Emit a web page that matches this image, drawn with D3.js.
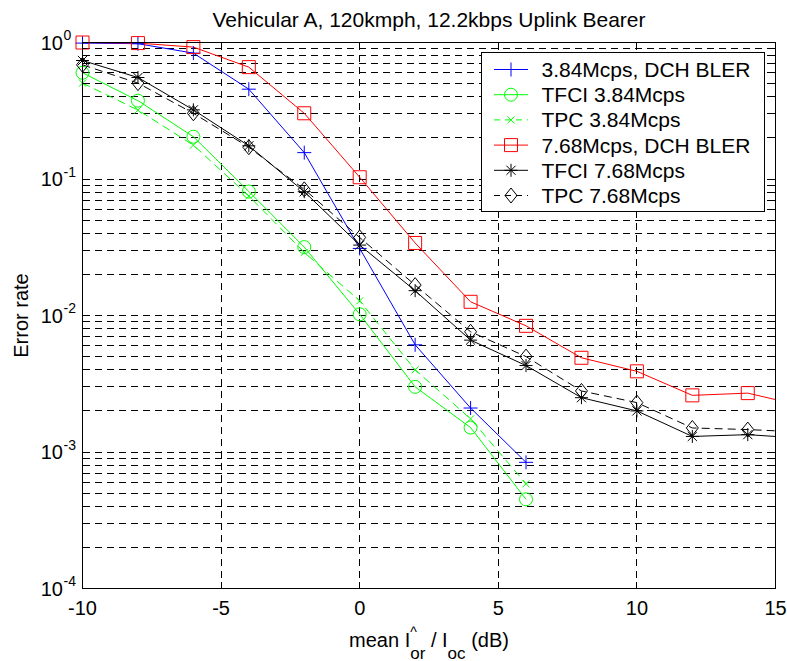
<!DOCTYPE html>
<html><head><meta charset="utf-8">
<script src="https://cdn.jsdelivr.net/npm/d3@7"></script>
<style>
body{margin:0;background:#fff;}
svg{display:block;font-family:Arial,"Liberation Sans",Helvetica,sans-serif;}
</style></head><body>
<svg id="chart" width="787" height="661"></svg>
<script>
// Ior/Ioc sweep points (dB)
const snr384 = [-10, -8, -6, -4, -2, 0, 2, 4, 6];
const snr768 = [-10, -8, -6, -4, -2, 0, 2, 4, 6, 8, 10, 12, 14, 16];

// 3.84 Mcps results
const dchBler384 = [0.99, 0.98, 0.836, 0.455, 0.156, 0.031, 0.0061, 0.0021, 0.00084];
const tfci384    = [0.60, 0.375, 0.204, 0.081, 0.0317, 0.0102, 0.0030, 0.00151, 0.00045];
const tpc384     = [0.504, 0.32, 0.177, 0.075, 0.029, 0.0128, 0.0040, 0.00175, 0.000585];

// 7.68 Mcps results
const dchBler768 = [1.0, 0.99, 0.925, 0.66, 0.303, 0.103, 0.034, 0.0126, 0.0084, 0.0049, 0.0039, 0.0026, 0.0027, 0.00217];
const tfci768    = [0.738, 0.554, 0.321, 0.175, 0.0807, 0.0328, 0.0152, 0.0066, 0.0043, 0.0025, 0.0020, 0.0013, 0.00134, 0.00126];
const tpc768     = [0.686, 0.504, 0.303, 0.171, 0.084, 0.0373, 0.0167, 0.0076, 0.0050, 0.0028, 0.0023, 0.0015, 0.00146, 0.0014];

const seriesNames = ["3.84Mcps, DCH BLER", "TFCI 3.84Mcps", "TPC 3.84Mcps",
                     "7.68Mcps, DCH BLER", "TFCI 7.68Mcps", "TPC 7.68Mcps"];
const seriesColors = ["#0000ff", "#00ff00", "#00ff00", "#ff0000", "#000000", "#000000"];
const seriesDashed = [false, false, true, false, false, true];
const seriesMarkers = ["plus", "circle", "cross", "square", "star", "diamond"];

const xTickValues = [-10, -5, 0, 5, 10, 15];
const yDecadeExponents = [-4, -3, -2, -1, 0];

const titleText = "Vehicular A, 120kmph, 12.2kbps Uplink Bearer";
const yLabelText = "Error rate";

const series = [
  {x: snr384, y: dchBler384}, {x: snr384, y: tfci384}, {x: snr384, y: tpc384},
  {x: snr768, y: dchBler768}, {x: snr768, y: tfci768}, {x: snr768, y: tpc768}
].map((s, i) => ({
  name: seriesNames[i], color: seriesColors[i], dashed: seriesDashed[i], marker: seriesMarkers[i],
  pts: s.x.map((v, j) => ({x: v, y: s.y[j]}))
}));

const svg = d3.select("#chart");
const L = 82.5, R = 775.5, T = 42.5, B = 588.5;
const x = d3.scaleLinear().domain([-10, 15]).range([L, R]);
const y = d3.scaleLog().domain([1e-4, 1]).range([B, T]);

const FONT = 20;

// clip region for the curves
svg.append("defs").append("clipPath").attr("id", "plotclip")
  .append("rect").attr("x", L).attr("y", T - 1).attr("width", R - L).attr("height", B - T + 2);

// grid
const grid = svg.append("g").attr("stroke", "#000").attr("stroke-width", 1)
  .attr("stroke-dasharray", "7,5").attr("shape-rendering", "crispEdges").attr("fill", "none");
const minorVals = [];
yDecadeExponents.slice(0, -1).forEach(e => {
  for (let k = 1; k <= 9; k++) minorVals.push(k * Math.pow(10, e));
});
minorVals.push(1);
grid.selectAll("line.h").data(minorVals.filter(v => v > 1e-4 && v < 1)).join("line")
  .attr("x1", L).attr("x2", R).attr("y1", d => Math.round(y(d) - 0.5) + 0.5).attr("y2", d => Math.round(y(d) - 0.5) + 0.5);
grid.selectAll("line.v").data(xTickValues.filter(v => v > -10 && v < 15)).join("line")
  .attr("y1", T).attr("y2", B).attr("x1", d => Math.round(x(d) - 0.5) + 0.5).attr("x2", d => Math.round(x(d) - 0.5) + 0.5);

// marker shapes
function markerPath(type) {
  switch (type) {
    case "plus": return "M-7,0H7M0,-7V7";
    case "cross": return "M-3.5,-3.5L3.5,3.5M-3.5,3.5L3.5,-3.5";
    case "square": return "M-6.5,-6.5H6.5V6.5H-6.5Z";
    case "star": return "M-6.5,0H6.5M0,-6.5V6.5M-4.6,-4.6L4.6,4.6M-4.6,4.6L4.6,-4.6";
    case "diamond": return "M0,-7.5L6,0L0,7.5L-6,0Z";
    default: return null;
  }
}
function drawMarker(g, type, color) {
  if (type === "circle") {
    g.append("circle").attr("r", 6.5).attr("fill", "none").attr("stroke", color).attr("stroke-width", 1);
  } else {
    g.append("path").attr("d", markerPath(type)).attr("fill", "none").attr("stroke", color).attr("stroke-width", 1);
  }
}

// curves
const line = d3.line().x(d => x(d.x)).y(d => y(d.y));
const curves = svg.append("g").attr("clip-path", "url(#plotclip)");
series.forEach(s => {
  curves.append("path").datum(s.pts).attr("d", line)
    .attr("fill", "none").attr("stroke", s.color).attr("stroke-width", 1)
    .attr("stroke-dasharray", s.dashed ? "8,5" : null);
});
series.forEach(s => {
  s.pts.filter(p => p.x <= 15).forEach(p => {
    const g = svg.append("g").attr("transform", `translate(${x(p.x)},${y(p.y)})`);
    drawMarker(g, s.marker, s.color);
  });
});

// axes frame and ticks
const ax = svg.append("g").attr("stroke", "#000").attr("stroke-width", 1).attr("shape-rendering", "crispEdges");
ax.append("rect").attr("x", L).attr("y", T).attr("width", R - L).attr("height", B - T).attr("fill", "none");
xTickValues.forEach(v => {
  const px = Math.round(x(v) - 0.5) + 0.5;
  ax.append("line").attr("x1", px).attr("x2", px).attr("y1", B).attr("y2", B - 7);
  ax.append("line").attr("x1", px).attr("x2", px).attr("y1", T).attr("y2", T + 7);
});
minorVals.forEach(v => {
  const py = Math.round(y(v) - 0.5) + 0.5;
  const major = Math.abs(Math.log10(v) - Math.round(Math.log10(v))) < 1e-9;
  const len = major ? 7 : 4;
  ax.append("line").attr("x1", L).attr("x2", L + len).attr("y1", py).attr("y2", py);
  ax.append("line").attr("x1", R).attr("x2", R - len).attr("y1", py).attr("y2", py);
});

// tick labels (plain hyphen for negatives)
const xAxisLabels = svg.append("g").attr("font-size", FONT).attr("fill", "#000");
xTickValues.forEach(v => {
  xAxisLabels.append("text").attr("x", x(v)).attr("y", 614.5).attr("text-anchor", "middle").text(String(v));
});
const yAxisLabels = svg.append("g").attr("fill", "#000");
yDecadeExponents.forEach(e => {
  const py = y(Math.pow(10, e));
  yAxisLabels.append("text").attr("x", 63).attr("y", py + 7).attr("text-anchor", "end")
    .attr("font-size", FONT).text("10");
  yAxisLabels.append("text").attr("x", 63.5).attr("y", py - 2.5).attr("font-size", 14).text(String(e));
});

// title
svg.append("text").attr("x", (L + R) / 2).attr("y", 26.5).attr("text-anchor", "middle")
  .attr("font-size", 21).text(titleText);

// y label
svg.append("text").attr("transform", `translate(28,${(T + B) / 2}) rotate(-90)`)
  .attr("text-anchor", "middle").attr("font-size", FONT).text(yLabelText);

// x label: mean I^or / Ioc (dB), with hat over I_or
const NB = "\u00a0";
const xl = svg.append("g");
let cx = 0;
function piece(txt, size, dy) {
  const t = xl.append("text").attr("x", cx).attr("y", dy).attr("font-size", size).text(txt);
  return t.node().getComputedTextLength();
}
cx += piece("mean" + NB + "I", FONT, 0);
const hatW = piece("^", 14, -10);
const orW = piece("or", 17, 12);
cx += Math.max(hatW, orW);
cx += piece(NB + "/" + NB + "I", FONT, 0);
cx += piece("oc", 17, 12);
cx += piece(NB + "(dB)", FONT, 0);
xl.attr("transform", `translate(${(L + R) / 2 - cx / 2},646.5)`);

// legend
const lg = svg.append("g");
lg.append("rect").attr("x", 481.5).attr("y", 52.5).attr("width", 283).attr("height", 159)
  .attr("fill", "#fff").attr("stroke", "#000").attr("stroke-width", 1).attr("shape-rendering", "crispEdges");
series.forEach((s, i) => {
  const ly = 69.5 + i * 25.2;
  lg.append("line").attr("x1", 494).attr("x2", 528).attr("y1", ly).attr("y2", ly)
    .attr("stroke", s.color).attr("stroke-width", 1).attr("stroke-dasharray", s.dashed ? "6,5" : null);
  const g = lg.append("g").attr("transform", `translate(511,${ly})`);
  drawMarker(g, s.marker, s.color);
  lg.append("text").attr("x", 541.5).attr("y", ly + 7.5).attr("font-size", 21).text(s.name);
});
</script>
</body></html>
